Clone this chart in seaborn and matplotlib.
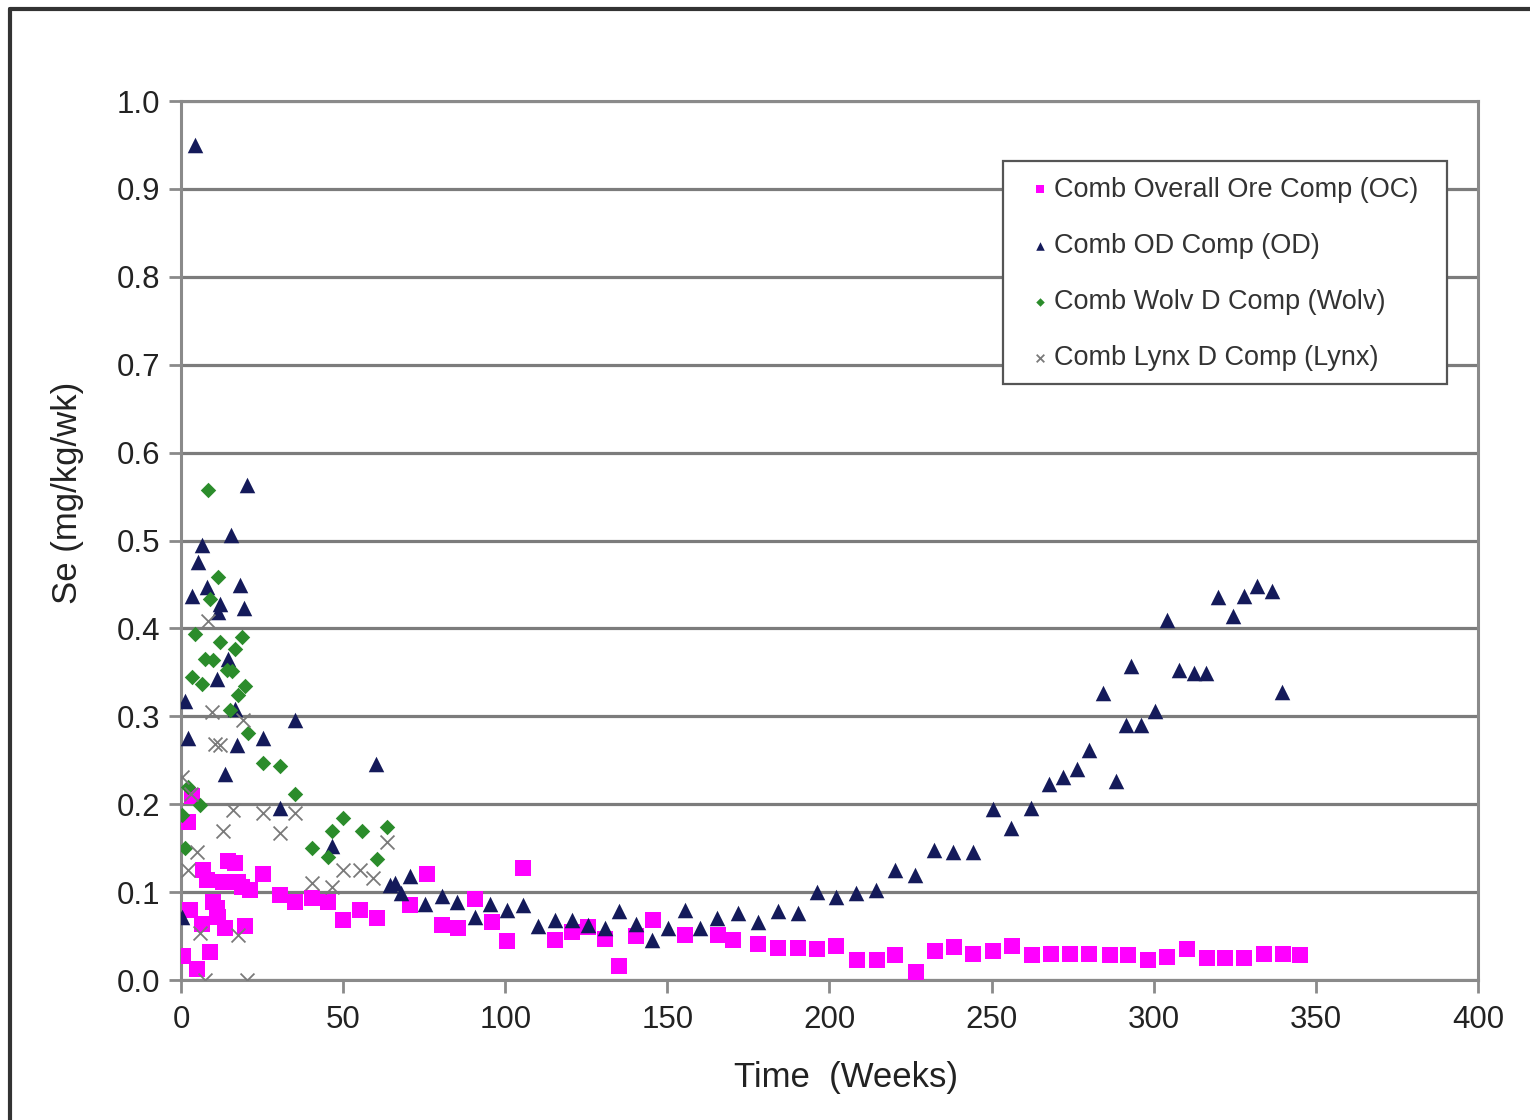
import matplotlib
matplotlib.use("Agg")
import matplotlib.pyplot as plt
import seaborn as sns
import pandas as pd
from matplotlib.lines import Line2D
from matplotlib.patches import Rectangle

# Selenium leach rate per composite (mg/kg/wk) versus time (weeks)
oc_weeks = [0.7, 2.3, 2.8, 3.3, 4.8, 6.4, 6.9, 7.9, 8.9, 10.0, 11.0, 11.5, 13.0, 13.6,
            14.6, 16.7, 17.7, 18.7, 19.7, 21.3, 25.4, 30.5, 35.2, 40.3, 45.4, 50.0,
            55.2, 60.4, 70.6, 75.8, 80.4, 85.5, 90.7, 95.8, 100.4, 105.6, 115.3,
            120.5, 125.6, 130.8, 135.2, 140.3, 145.5, 155.4, 165.7, 170.3, 178.0,
            184.2, 190.4, 196.0, 202.0, 208.4, 214.5, 220.2, 226.7, 232.5, 238.4,
            244.4, 250.5, 256.2, 262.4, 268.2, 274.2, 280.1, 286.5, 292.2, 298.3,
            304.2, 310.3, 316.3, 322.0, 327.9, 334.0, 339.8, 345.1]
oc_se = [0.027, 0.180, 0.080, 0.209, 0.013, 0.064, 0.125, 0.114, 0.032, 0.089, 0.082,
         0.072, 0.112, 0.059, 0.135, 0.133, 0.112, 0.106, 0.061, 0.102, 0.121, 0.097,
         0.089, 0.093, 0.089, 0.068, 0.080, 0.070, 0.085, 0.121, 0.063, 0.059, 0.092,
         0.066, 0.044, 0.127, 0.046, 0.055, 0.060, 0.047, 0.016, 0.050, 0.068, 0.051,
         0.051, 0.046, 0.041, 0.036, 0.036, 0.035, 0.039, 0.023, 0.023, 0.028, 0.009,
         0.033, 0.038, 0.030, 0.033, 0.039, 0.028, 0.030, 0.030, 0.030, 0.028, 0.028,
         0.023, 0.026, 0.035, 0.025, 0.025, 0.025, 0.030, 0.030, 0.028]

od_weeks = [0.2, 1.2, 2.3, 3.3, 4.3, 5.3, 6.4, 7.9, 11.0, 11.5, 12.0, 13.6, 14.6, 15.3,
            16.7, 17.2, 18.2, 19.4, 20.5, 25.4, 30.5, 35.2, 46.5, 60.1, 64.5, 66.0,
            68.0, 70.6, 75.3, 80.4, 85.0, 90.7, 95.3, 100.4, 105.6, 110.2, 115.3,
            120.5, 125.6, 130.8, 135.2, 140.3, 145.2, 150.3, 155.4, 160.1, 165.2,
            171.9, 178.0, 184.2, 190.4, 196.0, 202.0, 208.2, 214.3, 220.2, 226.4,
            232.2, 238.2, 244.2, 250.3, 255.9, 262.1, 267.7, 272.1, 276.4, 280.1,
            284.3, 288.4, 291.4, 293.0, 296.0, 300.4, 304.0, 307.9, 312.4, 316.1,
            319.9, 324.3, 327.9, 332.0, 336.4, 339.5]
od_se = [0.072, 0.317, 0.275, 0.437, 0.950, 0.476, 0.495, 0.447, 0.343, 0.419, 0.428,
         0.234, 0.365, 0.506, 0.308, 0.267, 0.449, 0.423, 0.563, 0.275, 0.196, 0.296,
         0.152, 0.246, 0.108, 0.110, 0.099, 0.118, 0.087, 0.095, 0.089, 0.072, 0.087,
         0.080, 0.085, 0.061, 0.068, 0.068, 0.063, 0.059, 0.078, 0.064, 0.046, 0.059,
         0.080, 0.059, 0.070, 0.076, 0.066, 0.078, 0.076, 0.100, 0.094, 0.099, 0.102,
         0.125, 0.119, 0.148, 0.146, 0.146, 0.194, 0.173, 0.196, 0.223, 0.231, 0.240,
         0.262, 0.327, 0.226, 0.290, 0.357, 0.290, 0.306, 0.410, 0.353, 0.349, 0.349,
         0.436, 0.414, 0.437, 0.448, 0.442, 0.328]

wolv_weeks = [0.2, 1.2, 2.3, 3.3, 4.3, 5.9, 6.4, 7.4, 8.4, 8.9, 10.0, 11.5, 12.0, 14.1,
              15.1, 15.6, 16.7, 17.7, 18.7, 19.7, 20.8, 25.4, 30.5, 35.2, 40.3, 45.4,
              46.5, 50.0, 55.7, 60.4, 63.4]
wolv_se = [0.188, 0.150, 0.220, 0.345, 0.394, 0.199, 0.337, 0.365, 0.558, 0.434, 0.364,
           0.458, 0.384, 0.353, 0.307, 0.351, 0.377, 0.324, 0.390, 0.334, 0.281, 0.247,
           0.244, 0.212, 0.150, 0.140, 0.169, 0.184, 0.169, 0.138, 0.174]

lynx_weeks = [0.2, 2.3, 3.0, 4.8, 5.9, 7.4, 8.4, 9.5, 10.5, 12.0, 13.0, 16.1, 17.7, 19.2,
              20.3, 25.4, 30.5, 35.2, 40.3, 46.5, 50.0, 55.2, 59.3, 63.4]
lynx_se = [0.231, 0.125, 0.212, 0.146, 0.053, 0.000, 0.408, 0.305, 0.268, 0.267, 0.169,
           0.193, 0.051, 0.296, 0.000, 0.190, 0.167, 0.190, 0.110, 0.106, 0.125, 0.125,
           0.116, 0.157]

series_names = ["Comb Overall Ore Comp (OC)", "Comb OD Comp (OD)",
                "Comb Wolv D Comp (Wolv)", "Comb Lynx D Comp (Lynx)"]

x_ticks = [0, 50, 100, 150, 200, 250, 300, 350, 400]
y_ticks = [0.0, 0.1, 0.2, 0.3, 0.4, 0.5, 0.6, 0.7, 0.8, 0.9, 1.0]

frames = []
for name, wk, se in zip(series_names,
                        [oc_weeks, od_weeks, wolv_weeks, lynx_weeks],
                        [oc_se, od_se, wolv_se, lynx_se]):
    frames.append(pd.DataFrame({"week": wk, "se": se, "series": name}))
data = pd.concat(frames, ignore_index=True)

sns.set_theme(style="white")
plt.rcParams["font.family"] = ["Liberation Sans", "DejaVu Sans"]

fig = plt.figure(figsize=(15.3, 11.2), dpi=100)
fig.patch.set_facecolor("white")
ax = fig.add_axes([0.1183, 0.125, 0.8477, 0.7848])

styles = {
    series_names[0]: dict(marker="s", s=120, color="#ff00ff", linewidth=0),
    series_names[1]: dict(marker="^", s=125, color="#141a5a", linewidth=0),
    series_names[2]: dict(marker="D", s=62, color="#2b8c2b", linewidth=0),
    series_names[3]: dict(marker="x", s=100, color="#7a7a7a", linewidth=1.3),
}

for name in series_names:
    sub = data[data["series"] == name]
    sns.scatterplot(data=sub, x="week", y="se", ax=ax, label=name, legend=False,
                    zorder=3, **styles[name])

ax.set_xlim(0, 400)
ax.set_ylim(0, 1.0)
ax.set_xticks(x_ticks)
ax.set_xticklabels([str(t) for t in x_ticks])
ax.set_yticks(y_ticks)
ax.set_yticklabels([f"{t:.1f}" for t in y_ticks])

ax.yaxis.grid(True, color="#7c7c7c", linewidth=2.3)
ax.xaxis.grid(False)
ax.set_axisbelow(True)
for side, sp in ax.spines.items():
    sp.set_visible(True)
    sp.set_color("#8a8a8a")
    sp.set_linewidth(2.2)

ax.tick_params(axis="both", which="major", direction="out", length=9, width=2,
               color="#8a8a8a", labelsize=22.5, labelcolor="#222222")
ax.tick_params(axis="x", pad=9, bottom=True)
ax.tick_params(axis="y", pad=6, left=True)

ax.set_xlabel("Time  (Weeks)", fontsize=25, color="#222222")
ax.set_ylabel("Se (mg/kg/wk)", fontsize=25, color="#222222")
ax.xaxis.set_label_coords(0.513, -0.092)
ax.yaxis.set_label_coords(-0.075, 0.554)

# legend box
ax.add_patch(Rectangle((0.6338, 0.678), 0.3423, 0.2537, transform=ax.transAxes,
                       facecolor="white", edgecolor="#555555", linewidth=1.6,
                       zorder=4))
leg = ax.legend(loc="upper left", bbox_to_anchor=(0.639, 0.931), fontsize=19.5,
                frameon=False, markerscale=0.55, handletextpad=0.0,
                handlelength=1.1, labelspacing=1.11, borderpad=0.55,
                borderaxespad=0)
leg.set_zorder(5)
for txt in leg.get_texts():
    txt.set_color("#333333")

# outer chart frame along the top and left edges
fig.add_artist(Line2D([0.0065, 0.0065], [0.0, 0.992], transform=fig.transFigure,
                      color="#333333", linewidth=3))
fig.add_artist(Line2D([0.0065, 1.0], [0.992, 0.992], transform=fig.transFigure,
                      color="#333333", linewidth=3))

fig.savefig("out.png", dpi=100, facecolor="white")
